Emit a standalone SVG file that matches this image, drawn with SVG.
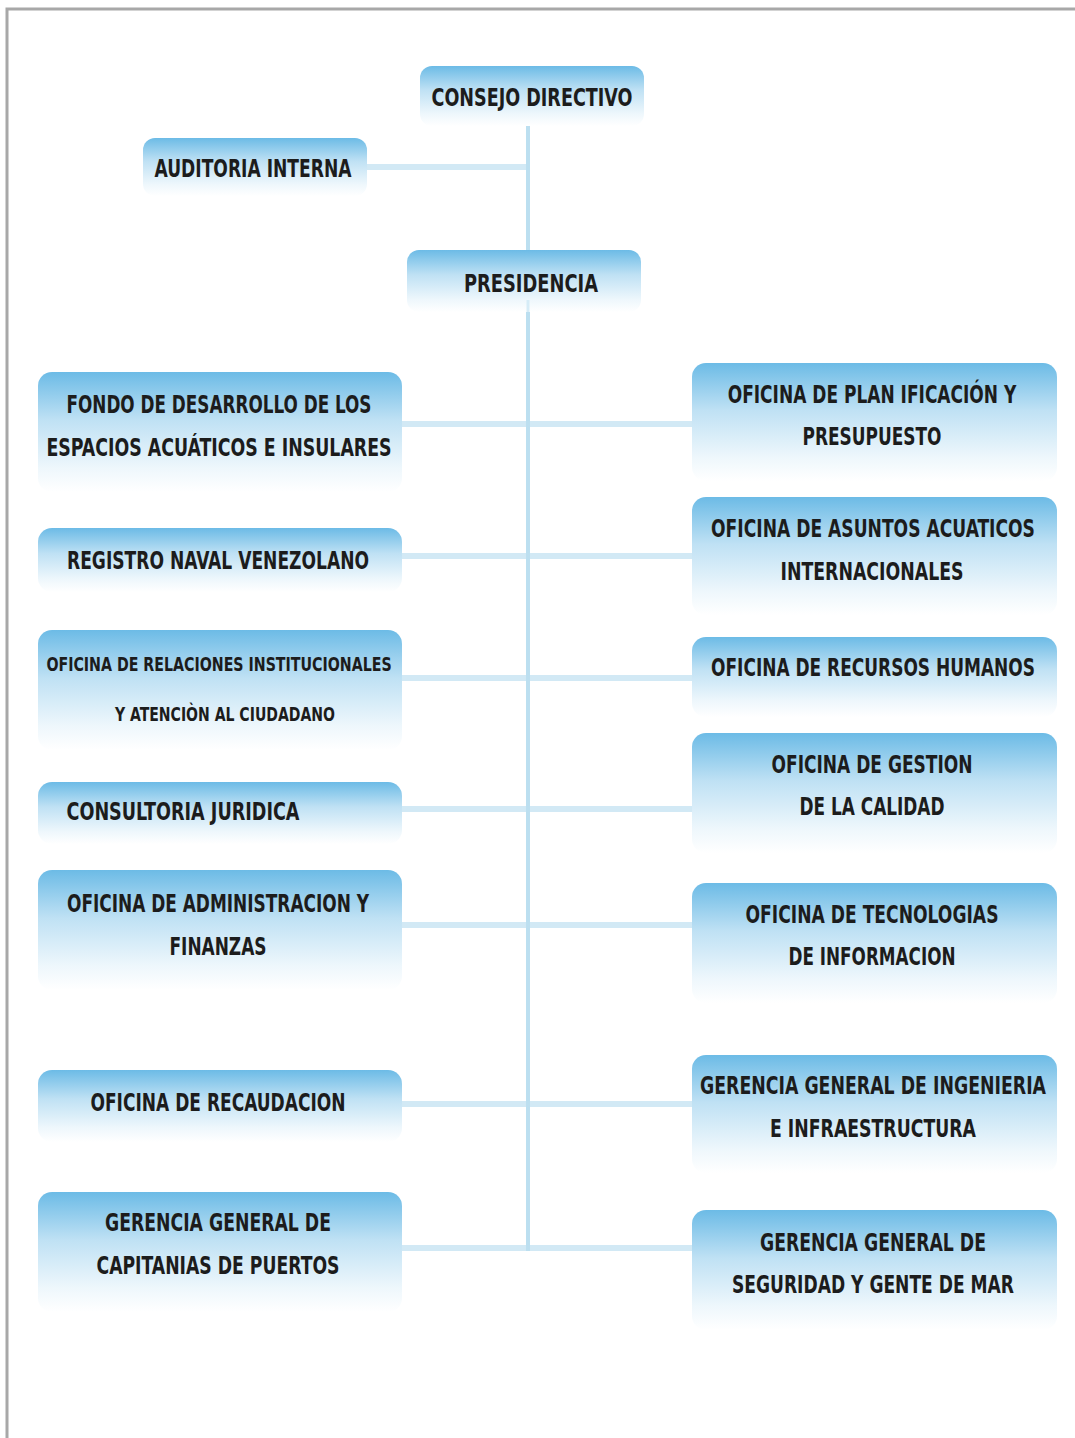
<svg xmlns="http://www.w3.org/2000/svg" width="1075" height="1438" viewBox="0 0 1075 1438">
<defs>
<linearGradient id="g" x1="0" y1="0" x2="0" y2="1">
<stop offset="0" stop-color="#6cbbe6"/>
<stop offset="0.4" stop-color="#bfe1f4"/>
<stop offset="0.8" stop-color="#eef7fc"/>
<stop offset="1" stop-color="#ffffff"/>
</linearGradient>
<style>
.b{fill:url(#g)}
.t{font-family:"Liberation Sans Narrow","DejaVu Sans Condensed","Liberation Sans",sans-serif;font-weight:bold;font-size:24px;fill:#1c1c1c;text-anchor:middle}
.s{font-size:19px}
.h{stroke:#d2e9f5;stroke-width:6;fill:none}
.v{stroke:#bcdff0;stroke-width:4;fill:none}
</style>
</defs>
<rect x="0" y="0" width="1075" height="1438" fill="#ffffff"/>
<path d="M7,1438 V9 H1075" fill="none" stroke="#a8a8a8" stroke-width="3"/>
<g id="connectors">
<line class="h" x1="366" y1="167" x2="528" y2="167"/>
<line class="h" x1="400" y1="424" x2="694" y2="424"/>
<line class="h" x1="400" y1="556" x2="694" y2="556"/>
<line class="h" x1="400" y1="678" x2="694" y2="678"/>
<line class="h" x1="400" y1="809" x2="694" y2="809"/>
<line class="h" x1="400" y1="925" x2="694" y2="925"/>
<line class="h" x1="400" y1="1104" x2="694" y2="1104"/>
<line class="h" x1="400" y1="1248" x2="694" y2="1248"/>
<line class="v" x1="528" y1="124" x2="528" y2="1251"/>
</g>
<g id="consejo"><rect class="b" x="420" y="66" width="224" height="60" rx="12"/><text class="t" x="532" y="106" textLength="201" lengthAdjust="spacingAndGlyphs">CONSEJO DIRECTIVO</text></g>
<g id="auditoria"><rect class="b" x="143" y="138" width="224" height="58" rx="12"/><text class="t" x="253" y="177" textLength="197" lengthAdjust="spacingAndGlyphs">AUDITORIA INTERNA</text></g>
<g id="presidencia"><rect class="b" x="407" y="250" width="234" height="62" rx="12"/><text class="t" x="531" y="292" textLength="134" lengthAdjust="spacingAndGlyphs">PRESIDENCIA</text><line x1="528" y1="300" x2="528" y2="312" stroke="#d6ecf7" stroke-width="3"/></g>

<g id="fondo"><rect class="b" x="38" y="372" width="364" height="120" rx="14"/><text class="t" x="219" y="413" textLength="305" lengthAdjust="spacingAndGlyphs">FONDO DE DESARROLLO DE LOS</text><text class="t" transform="translate(219,456) scale(0.82,1)" x="0" y="0" textLength="421" lengthAdjust="spacingAndGlyphs">ESPACIOS ACUÁTICOS E INSULARES</text></g>
<g id="registro"><rect class="b" x="38" y="528" width="364" height="64" rx="14"/><text class="t" x="218" y="569" textLength="302" lengthAdjust="spacingAndGlyphs">REGISTRO NAVAL VENEZOLANO</text></g>
<g id="relaciones"><rect class="b" x="38" y="630" width="364" height="120" rx="14"/><text class="t s" transform="translate(219,671) scale(0.82,1)" x="0" y="0" textLength="421" lengthAdjust="spacingAndGlyphs">OFICINA DE RELACIONES INSTITUCIONALES</text><text class="t s" x="225" y="721" textLength="220" lengthAdjust="spacingAndGlyphs">Y ATENCIÒN AL CIUDADANO</text></g>
<g id="consultoria"><rect class="b" x="38" y="782" width="364" height="62" rx="14"/><text class="t" x="183" y="820" textLength="233" lengthAdjust="spacingAndGlyphs">CONSULTORIA JURIDICA</text></g>
<g id="administracion"><rect class="b" x="38" y="870" width="364" height="120" rx="14"/><text class="t" x="218" y="912" textLength="302" lengthAdjust="spacingAndGlyphs">OFICINA DE ADMINISTRACION Y</text><text class="t" x="218" y="955" textLength="97" lengthAdjust="spacingAndGlyphs">FINANZAS</text></g>
<g id="recaudacion"><rect class="b" x="38" y="1070" width="364" height="72" rx="14"/><text class="t" x="218" y="1111" textLength="255" lengthAdjust="spacingAndGlyphs">OFICINA DE RECAUDACION</text></g>
<g id="capitanias"><rect class="b" x="38" y="1192" width="364" height="120" rx="14"/><text class="t" x="218" y="1231" textLength="226" lengthAdjust="spacingAndGlyphs">GERENCIA GENERAL DE</text><text class="t" x="218" y="1274" textLength="243" lengthAdjust="spacingAndGlyphs">CAPITANIAS DE PUERTOS</text></g>

<g id="planificacion"><rect class="b" x="692" y="363" width="365" height="118" rx="14"/><text class="t" transform="translate(872,403) scale(0.82,1)" x="0" y="0" textLength="352" lengthAdjust="spacingAndGlyphs">OFICINA DE PLAN IFICACIÓN Y</text><text class="t" x="872" y="445" textLength="139" lengthAdjust="spacingAndGlyphs">PRESUPUESTO</text></g>
<g id="asuntos"><rect class="b" x="692" y="497" width="365" height="118" rx="14"/><text class="t" transform="translate(873,537) scale(0.82,1)" x="0" y="0" textLength="395" lengthAdjust="spacingAndGlyphs">OFICINA DE ASUNTOS ACUATICOS</text><text class="t" x="872" y="580" textLength="183" lengthAdjust="spacingAndGlyphs">INTERNACIONALES</text></g>
<g id="rrhh"><rect class="b" x="692" y="637" width="365" height="80" rx="14"/><text class="t" transform="translate(873,676) scale(0.82,1)" x="0" y="0" textLength="395" lengthAdjust="spacingAndGlyphs">OFICINA DE RECURSOS HUMANOS</text></g>
<g id="calidad"><rect class="b" x="692" y="733" width="365" height="120" rx="14"/><text class="t" x="872" y="773" textLength="201" lengthAdjust="spacingAndGlyphs">OFICINA DE GESTION</text><text class="t" x="872" y="815" textLength="145" lengthAdjust="spacingAndGlyphs">DE LA CALIDAD</text></g>
<g id="tecnologias"><rect class="b" x="692" y="883" width="365" height="120" rx="14"/><text class="t" x="872" y="923" textLength="253" lengthAdjust="spacingAndGlyphs">OFICINA DE TECNOLOGIAS</text><text class="t" x="872" y="965" textLength="167" lengthAdjust="spacingAndGlyphs">DE INFORMACION</text></g>
<g id="ingenieria"><rect class="b" x="692" y="1055" width="365" height="118" rx="14"/><text class="t" transform="translate(873,1094) scale(0.82,1)" x="0" y="0" textLength="422" lengthAdjust="spacingAndGlyphs">GERENCIA GENERAL DE INGENIERIA</text><text class="t" x="873" y="1137" textLength="206" lengthAdjust="spacingAndGlyphs">E INFRAESTRUCTURA</text></g>
<g id="seguridad"><rect class="b" x="692" y="1210" width="365" height="120" rx="14"/><text class="t" x="873" y="1251" textLength="226" lengthAdjust="spacingAndGlyphs">GERENCIA GENERAL DE</text><text class="t" transform="translate(873,1293) scale(0.82,1)" x="0" y="0" textLength="344" lengthAdjust="spacingAndGlyphs">SEGURIDAD Y GENTE DE MAR</text></g>
</svg>
